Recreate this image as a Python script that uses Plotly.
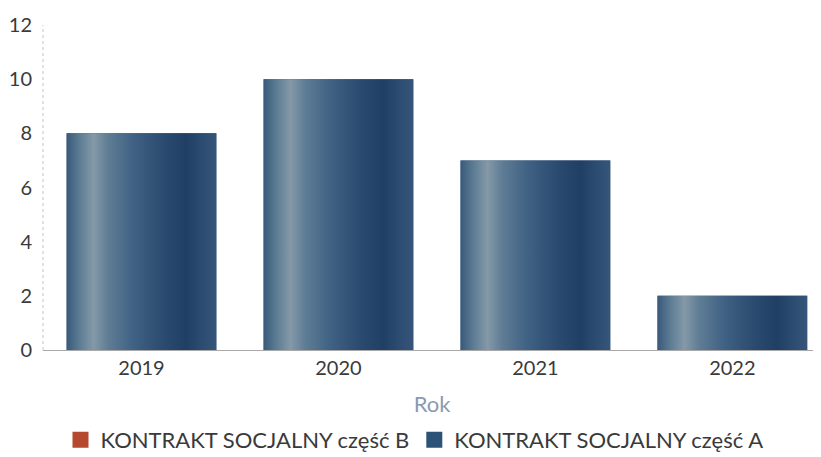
import plotly.graph_objects as go

years = ["2019", "2020", "2021", "2022"]
czesc_a = [8, 10, 7, 2]
czesc_b = [0, 0, 0, 0]
y_ticks = [0, 2, 4, 6, 8, 10, 12]
series_names = ["KONTRAKT SOCJALNY część B", "KONTRAKT SOCJALNY część A"]

FONT = "Lato"
BAR_W = 0.76
blue_scale = [
    [0.0, "#38597a"],
    [0.08, "#5a7a92"],
    [0.18, "#8499a8"],
    [0.28, "#5e7c94"],
    [0.45, "#3f6183"],
    [0.65, "#2a4a6f"],
    [0.8, "#213f65"],
    [0.9, "#2b4b70"],
    [1.0, "#35567a"],
]

xs = list(range(len(years)))
fig = go.Figure()

# Base bars (data marks)
fig.add_trace(go.Bar(x=xs, y=czesc_b, width=BAR_W, marker_color="#b5482d",
                     showlegend=False, name=series_names[0]))
fig.add_trace(go.Bar(x=xs, y=czesc_a, width=BAR_W, marker_color="#2c4f75",
                     marker_line_width=0, showlegend=False, name=series_names[1]))

# Gradient overlay on each bar, built from the same values
for i, v in zip(xs, czesc_a):
    x0, x1 = i - BAR_W / 2, i + BAR_W / 2
    fig.add_trace(go.Scatter(
        x=[x0, x1, x1, x0, x0], y=[0, 0, v, v, 0],
        mode="lines", line=dict(width=0), fill="toself",
        fillgradient=dict(type="horizontal", colorscale=blue_scale),
        hoverinfo="skip", showlegend=False))

# Legend entries
fig.add_trace(go.Scatter(x=[None], y=[None], mode="markers", name=series_names[0],
                         marker=dict(symbol="square", size=18, color="#b5482d")))
fig.add_trace(go.Scatter(x=[None], y=[None], mode="markers", name=series_names[1],
                         marker=dict(symbol="square", size=18, color="#2c5278")))

# dotted y-axis line
fig.add_shape(type="line", xref="paper", yref="y", x0=0, x1=0, y0=0, y1=12,
              line=dict(color="#c4c4c4", width=1, dash="dot"), layer="below")

fig.update_layout(
    width=813, height=449,
    margin=dict(l=35, r=0, t=17, b=107),
    paper_bgcolor="white", plot_bgcolor="white",
    font=dict(family=FONT, color="#3a3a3a", size=20),
    barmode="overlay",
    xaxis=dict(
        range=[-0.5, 3.45], tickvals=xs, ticktext=years, automargin=False,
        showgrid=False, zeroline=False, showline=True, linecolor="#a8a8a8",
        linewidth=1, ticks="", tickfont=dict(size=20, color="#3a3a3a"),
        title=dict(text="Rok", font=dict(size=22, color="#8a9bb0"), standoff=18),
    ),
    yaxis=dict(
        range=[0, 12], tickvals=y_ticks, showgrid=False, zeroline=False,
        showline=False, automargin=False,
        ticks="", ticklabelstandoff=10, tickfont=dict(size=20, color="#3a3a3a"),
    ),
    legend=dict(orientation="h", xref="container", yref="container",
                x=0.5, xanchor="center", y=0.038, yanchor="middle",
                font=dict(size=22, color="#3a3a3a"), itemsizing="trace",
                traceorder="normal", tracegroupgap=0),
)

fig.write_html("out.html")
